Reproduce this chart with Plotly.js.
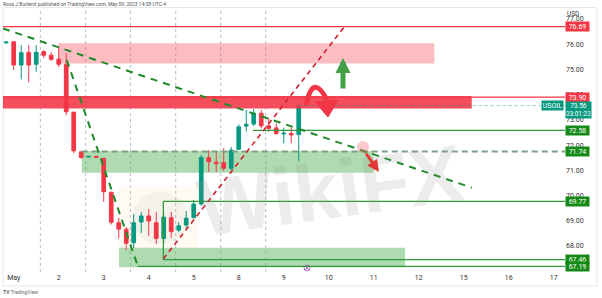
<!DOCTYPE html>
<html>
<head>
<meta charset="utf-8">
<script src="https://cdn.plot.ly/plotly-3.0.1.min.js"></script>
<style>html,body{margin:0;padding:0;background:#fff;}#chart{width:602px;height:298px;}</style>
</head>
<body>
<div id="chart"></div>
<script>
// ---- data (4h candles, index = bar number) ----
const barIndex = [0,1,2,3,4,5,6,7,8,9,10,11,12,13,14,15,16,17,18,19,20,21,22,23,24,25,26,27,28,29,30,31,32,33,34,35,36,37,38,39];
const openP  = [76.05,76.09,75.17,75.67,75.20,75.70,75.56,75.40,75.20,73.30,71.73,71.53,71.55,71.47,70.13,68.92,68.66,68.13,68.95,69.19,68.92,68.30,69.12,68.63,68.83,69.12,69.66,71.50,71.32,71.30,71.08,71.83,72.75,72.83,73.26,72.76,72.68,72.44,72.46,72.42];
const highP  = [76.12,76.12,75.96,75.96,75.96,75.76,75.68,75.92,75.64,73.33,71.76,71.58,71.58,71.50,70.15,69.11,68.75,69.27,69.35,69.47,69.35,69.31,69.35,68.95,69.39,69.82,71.60,71.80,71.73,71.88,71.92,72.82,73.39,73.43,73.39,73.07,72.86,72.69,72.69,73.58];
const lowP   = [76.02,74.97,74.60,74.48,74.90,75.45,75.33,75.09,73.19,71.68,71.45,71.50,71.48,69.75,68.85,68.30,67.84,67.91,68.51,68.40,68.08,68.12,68.32,68.55,68.71,69.10,69.60,70.94,70.93,70.97,71.01,71.80,72.53,72.75,72.66,72.53,72.40,72.07,72.07,71.34];
const closeP = [76.08,75.17,75.66,75.17,75.67,75.56,75.40,75.20,73.32,71.77,71.51,71.55,71.51,70.15,68.94,68.67,68.11,68.92,69.19,68.99,68.30,69.14,68.57,68.80,69.10,69.66,71.51,71.34,71.26,71.08,71.80,72.72,72.82,73.26,72.76,72.66,72.46,72.47,72.40,73.56];

const dayTickPos   = [1,7,13,19,25,31,37,43,49,55,61,67,73];
const dayTickText  = ["May","2","3","4","5","8","9","10","11","12","15","16","17"];
const sessionBreaks = [4.55,10.6,16.55,22.6,28.6,34.6];
const priceTicks = [68,69,70,71,72,73,74,75,76,77];

// horizontal levels
const levelPrice = [76.69, 73.90, 72.58, 71.74, 69.77, 67.46, 67.19];
const levelStart = [-0.5, -0.5, 32.9, 10.07, 20.95, 20.95, 17.5];
const levelColor = ["#f23645","#f23645","#2e9a3a","#7f9f86","#2e9a3a","#2e9a3a","#2e9a3a"];
const levelTag   = ["#f23645","#f23645","#168a16","#168a16","#168a16","#168a16","#168a16"];
const levelDash  = ["solid","solid","solid","dash","solid","solid","solid"];

// zones [x0, x1, y0, y1]
const pinkZone   = [6.95, 57.08, 75.23, 76.03];
const redZone    = [-0.5, 62.07, 73.45, 73.94];
const greenZoneA = [10.07, 48.97, 70.90, 71.76];
const greenZoneB = [15.04, 53.17, 67.16, 67.93];
// trend lines [x0,y0,x1,y1]
const trendLong  = [-0.43, 76.62, 62.07, 70.31];
const trendSteep = [8.07, 75.37, 17.57, 67.18];
const trendUp    = [20.95, 67.49, 45.04, 76.67];
const lastPrice = 73.56;
const eventX = [40.1], eventY = [67.13];

const xr = [-0.43, 74.5], yr = [66.97, 77.43];
const PL=3, PT=8, PW=562, PH=264;
const X = px => xr[0] + (px-PL)/PW*(xr[1]-xr[0]);
const Y = py => yr[1] - (py-PT)/PH*(yr[1]-yr[0]);
const P = (px,py) => X(px)+','+Y(py);

const traces = [{
  type:'candlestick', x: barIndex, open: openP, high: highP, low: lowP, close: closeP,
  increasing:{line:{color:'#089981',width:1},fillcolor:'#089981'},
  decreasing:{line:{color:'#f23645',width:1},fillcolor:'#f23645'},
  whiskerwidth:0, hoverinfo:'skip', showlegend:false
},{
  type:'scatter', mode:'markers', x:eventX, y:eventY, hoverinfo:'skip', showlegend:false,
  marker:{symbol:'circle-x-open', size:6, color:'#b56cc9', line:{width:1}}
}];

const shapes = [];
sessionBreaks.forEach(s => shapes.push({type:'line', xref:'x', yref:'paper', x0:s, x1:s, y0:0, y1:1, layer:'below', line:{color:'#b8bcc6', width:1, dash:'dot'}}));
// watermark logo
shapes.push({type:'rect', xref:'x', yref:'y', x0:X(118), x1:X(198), y0:Y(248), y1:Y(186), layer:'below', line:{width:0}, fillcolor:'rgba(255,196,110,0.09)'});
shapes.push({type:'circle', xref:'x', yref:'y', x0:X(132), x1:X(188), y0:Y(244), y1:Y(192), layer:'below', line:{width:0}, fillcolor:'rgba(150,150,150,0.09)'});
const zone = (z, fill, layer) => shapes.push({type:'rect', xref:'x', yref:'y', x0:z[0], x1:z[1], y0:z[2], y1:z[3], layer:layer, line:{width:0}, fillcolor:fill});
zone(pinkZone, 'rgba(242,54,69,0.33)', 'below');
zone(greenZoneA, 'rgba(76,175,80,0.45)', 'below');
zone(greenZoneB, 'rgba(76,175,80,0.45)', 'below');
zone(redZone, 'rgba(242,54,69,0.88)', 'above');
levelPrice.forEach((p,i) => shapes.push({type:'line', xref:'x', yref:'y', x0:levelStart[i], x1:xr[1]+1, y0:p, y1:p,
  line:{color:levelColor[i], width: levelDash[i]==='dash'?2:1.3, dash: levelDash[i]==='dash'?'6px,4px':'solid'}}));
shapes.push({type:'line', xref:'x', yref:'y', x0:levelStart[4], x1:levelStart[4], y0:levelPrice[5], y1:levelPrice[4], line:{color:'#2e9a3a', width:1.3}});
shapes.push({type:'line', xref:'x', yref:'y', x0:39, x1:xr[1]+1, y0:lastPrice, y1:lastPrice, line:{color:'rgba(8,153,129,0.45)', width:1, dash:'dot'}});
const tl = (t, color, w, dash) => shapes.push({type:'line', xref:'x', yref:'y', x0:t[0], y0:t[1], x1:t[2], y1:t[3], line:{color:color, width:w, dash:dash}});
tl(trendLong, '#1e8a2a', 2, '7px,6px');
tl(trendSteep, '#1e8a2a', 2, '7px,6px');
tl(trendUp, '#d0202e', 1.6, '5px,4px');
// curved red arrow
shapes.push({type:'path', xref:'x', yref:'y', path:'M '+P(306,105)+' Q '+P(313,72)+' '+P(327,100), line:{color:'#f23645', width:5}, fillcolor:'rgba(0,0,0,0)'});
shapes.push({type:'path', xref:'x', yref:'y', path:'M '+P(315,102)+' L '+P(338,100)+' L '+P(328,117)+' Z', line:{color:'#f23645', width:1}, fillcolor:'#f23645'});
// small pink blob
shapes.push({type:'circle', xref:'x', yref:'y', x0:X(357), x1:X(369), y0:Y(153), y1:Y(141), line:{width:0}, fillcolor:'rgba(240,120,130,0.4)'});

const annotations = [];
// price tags
levelPrice.forEach((p,i) => annotations.push({xref:'paper', yref:'y', x:1, xanchor:'left', y:p, yanchor:'middle', showarrow:false,
  text:p.toFixed(2), font:{family:'Roboto', size:7, color:'#fff'}, bgcolor:levelTag[i], width:22, height:8, borderpad:0.5}));
annotations.push({xref:'paper', yref:'y', x:1, xanchor:'left', y:lastPrice, yanchor:'top', yshift:5, showarrow:false, align:'center',
  text:lastPrice.toFixed(2)+'<br>03:01:23', font:{family:'Roboto', size:6.5, color:'#fff'}, bgcolor:'#089981', width:24, height:15, borderpad:0.5});
annotations.push({xref:'paper', yref:'y', x:1, xanchor:'right', xshift:-1, y:lastPrice, yanchor:'middle', showarrow:false,
  text:'USOIL', font:{family:'Roboto', size:7, color:'#fff'}, bgcolor:'#089981', width:20, height:8, borderpad:0.5});
annotations.push({xref:'paper', yref:'paper', x:1.0142, y:0.977, xanchor:'center', yanchor:'middle', showarrow:false,
  text:'USD', font:{family:'Roboto', size:6.5, color:'#333'}});
annotations.push({xref:'paper', yref:'paper', x:-0.003, y:1.015, xanchor:'left', yanchor:'middle', showarrow:false,
  text:'Ross J Burland published on TradingView.com, May 09, 2023 14:58 UTC-4', font:{family:'Roboto', size:5, color:'#555'}});
annotations.push({xref:'paper', yref:'paper', x:-0.003, y:-0.077, xanchor:'left', yanchor:'middle', showarrow:false,
  text:'<b>TV</b> TradingView', font:{family:'Roboto', size:5, color:'#666'}});
// watermark
annotations.push({xref:'x', yref:'y', x:X(330), y:Y(190), showarrow:false, textangle:-8,
  text:'<b>WikiFX</b>', font:{family:'Liberation Sans', size:80, color:'rgba(140,140,140,0.17)'}});
// green up arrow
annotations.push({xref:'x', yref:'y', axref:'x', ayref:'y', x:X(343), y:Y(58), ax:X(343), ay:Y(90), text:'', showarrow:true,
  arrowhead:2, arrowsize:0.6, arrowwidth:5, arrowcolor:'#43a047'});
// small red arrow
annotations.push({xref:'x', yref:'y', axref:'x', ayref:'y', x:X(379), y:Y(172), ax:X(365), ay:Y(152), text:'', showarrow:true,
  arrowhead:2, arrowsize:0.8, arrowwidth:3, arrowcolor:'#e53935'});

const layout = {
  width:602, height:298, margin:{l:PL, r:37, t:PT, b:26}, paper_bgcolor:'#fff', plot_bgcolor:'#fff',
  font:{family:'Roboto', color:'#333'}, showlegend:false, dragmode:false,
  xaxis:{range:xr, rangeslider:{visible:false}, tickmode:'array', tickvals:dayTickPos, ticktext:dayTickText,
    showgrid:false, zeroline:false, showline:false, ticks:'', tickfont:{size:7, color:'#333'}, fixedrange:true},
  yaxis:{range:yr, side:'right', tickmode:'array', tickvals:priceTicks, tickformat:'.2f', showgrid:false, zeroline:false,
    showline:false, ticks:'', tickfont:{size:7, color:'#333'}, fixedrange:true},
  shapes: shapes.concat([{type:'rect', xref:'paper', yref:'paper', x0:0, x1:(597-PL)/PW, y0:(PT+PH-286)/PH, y1:1.002, layer:'below', line:{color:'#e6e8ee', width:1}}]),
  annotations: annotations
};
Plotly.newPlot('chart', traces, layout, {staticPlot:true, displayModeBar:false});
</script>
</body>
</html>
